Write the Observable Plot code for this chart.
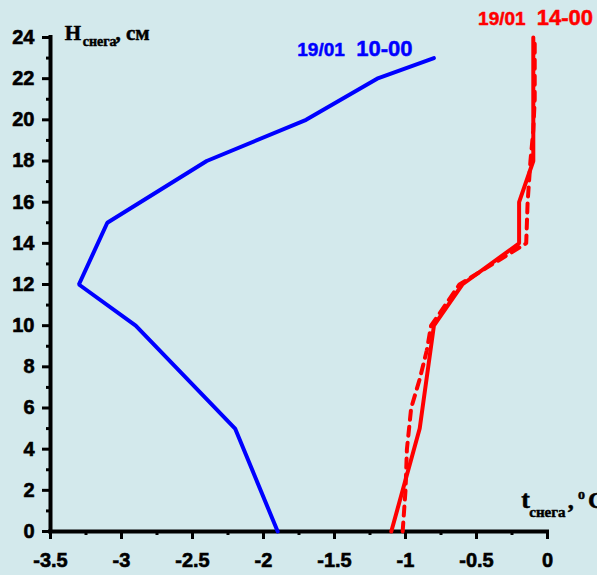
<!DOCTYPE html>
<html><head><meta charset="utf-8">
<script src="https://cdn.jsdelivr.net/npm/d3@7"></script>
<script src="https://cdn.jsdelivr.net/npm/@observablehq/plot@0.6"></script>
<style>html,body{margin:0;padding:0;background:#d3e9ec;overflow:hidden}</style>
</head><body><div id="chart"></div>
<script>
// tick values
const xTicks = [-3.5, -3, -2.5, -2, -1.5, -1, -0.5, 0];
const xMinorTicks = [-3.25, -2.75, -2.25, -1.75, -1.25, -0.75, -0.25];
const yTicks = [0, 2, 4, 6, 8, 10, 12, 14, 16, 18, 20, 22, 24];
const yMinorTicks = [1, 3, 5, 7, 9, 11, 13, 15, 17, 19, 21, 23];

// 19/01 10-00 (blue)
const blueT = [-1.9, -2.2, -2.9, -3.3, -3.1, -2.4, -1.7, -1.2, -0.8];
const blueH = [0, 5, 10, 12, 15, 18, 20, 22, 23];

// 19/01 14-00 (red solid)
const redT = [-1.1, -0.9, -0.8, -0.6, -0.2, -0.2, -0.1, -0.1];
const redH = [0, 5, 10, 12, 14, 16, 18, 24];

// red dashed
const dashT = [-1.02, -1.0, -0.99, -0.96, -0.9, -0.85, -0.82, -0.62, -0.15, -0.14, -0.13, -0.12, -0.1, -0.09, -0.09];
const dashH = [0, 2, 4, 6, 7.4, 8.8, 10, 12, 14, 16, 17, 18, 19.5, 21, 24];

const toRows = (T, H) => T.map((t, i) => ({t, h: H[i]}));
const blue = toRows(blueT, blueH);
const red = toRows(redT, redH);
const dash = toRows(dashT, dashH);

const sans = "'Liberation Sans', Arial, sans-serif";
const serif = "'Liberation Serif', 'Times New Roman', serif";
const label = (txt, t, h, opts) => Plot.text([{t, h, txt}], {
  x: "t", y: "h", text: "txt", textAnchor: "start", lineAnchor: "bottom",
  fontWeight: "bold", stroke: opts.fill, strokeWidth: 0.5, ...opts
});

const plot = Plot.plot({
  width: 597, height: 575,
  marginLeft: 50, marginRight: 50, marginTop: 37, marginBottom: 44,
  style: {background: "#d3e9ec", fontFamily: sans, color: "#000", overflow: "visible"},
  x: {domain: [-3.5, 0]},
  y: {domain: [0, 24]},
  marks: [
    Plot.axisX(xTicks, {tickSize: 8, tickPadding: 13, strokeWidth: 3, fontSize: 20, fontWeight: "bold", tickFormat: d => String(d), label: null}),
    Plot.axisX(xMinorTicks, {tickSize: 4, strokeWidth: 3, tickFormat: () => "", label: null}),
    Plot.axisY(yTicks, {tickSize: 8, tickPadding: 8, strokeWidth: 3, fontSize: 20, fontWeight: "bold", tickFormat: d => String(d), label: null}),
    Plot.axisY(yMinorTicks, {tickSize: 4, strokeWidth: 3, tickFormat: () => "", label: null}),
    Plot.ruleY([0], {strokeWidth: 4, strokeLinecap: "square"}),
    Plot.ruleX([-3.5], {strokeWidth: 4, strokeLinecap: "square"}),
    Plot.line(dash, {x: "t", y: "h", stroke: "#ff0000", strokeWidth: 4, strokeDasharray: "9,7", strokeLinejoin: "miter"}),
    Plot.line(red, {x: "t", y: "h", stroke: "#ff0000", strokeWidth: 4, strokeLinejoin: "miter"}),
    Plot.line(blue, {x: "t", y: "h", stroke: "#0000ff", strokeWidth: 4, strokeLinejoin: "miter"}),
    label("19/01", -1.762, 23.09, {fontSize: 19, fill: "#0000ff", fontFamily: sans}),
    label("10-00", -1.347, 23.09, {fontSize: 22, fill: "#0000ff", fontFamily: sans}),
    label("19/01", -0.489, 24.59, {fontSize: 19, fill: "#ff0000", fontFamily: sans}),
    label("14-00", -0.076, 24.59, {fontSize: 22, fill: "#ff0000", fontFamily: sans}),
    label("H", -3.4, 23.87, {fontSize: 21, fill: "#000", fontFamily: serif}),
    label("снега", -3.273, 23.58, {fontSize: 14, fill: "#000", fontFamily: serif}),
    label(", см", -3.043, 23.87, {fontSize: 21, fill: "#000", fontFamily: serif}),
    label("t", -0.185, 1.12, {fontSize: 26, fill: "#000", fontFamily: serif}),
    label("снега", -0.128, 0.70, {fontSize: 15, fill: "#000", fontFamily: serif}),
    label(",", 0.142, 1.12, {fontSize: 24, fill: "#000", fontFamily: serif}),
    label("o", 0.215, 1.6, {fontSize: 14, fill: "#000", fontFamily: serif}),
    label("C", 0.285, 1.12, {fontSize: 24, fill: "#000", fontFamily: serif})
  ]
});
d3.select(plot).selectAll("text").style("font-weight", "700");
d3.select(plot).selectAll("g[aria-label='x-axis tick label'] text, g[aria-label='y-axis tick label'] text")
  .style("font-family", sans).style("stroke", "#000").style("stroke-width", "0.6");
document.getElementById("chart").appendChild(plot);
</script>
</body></html>
